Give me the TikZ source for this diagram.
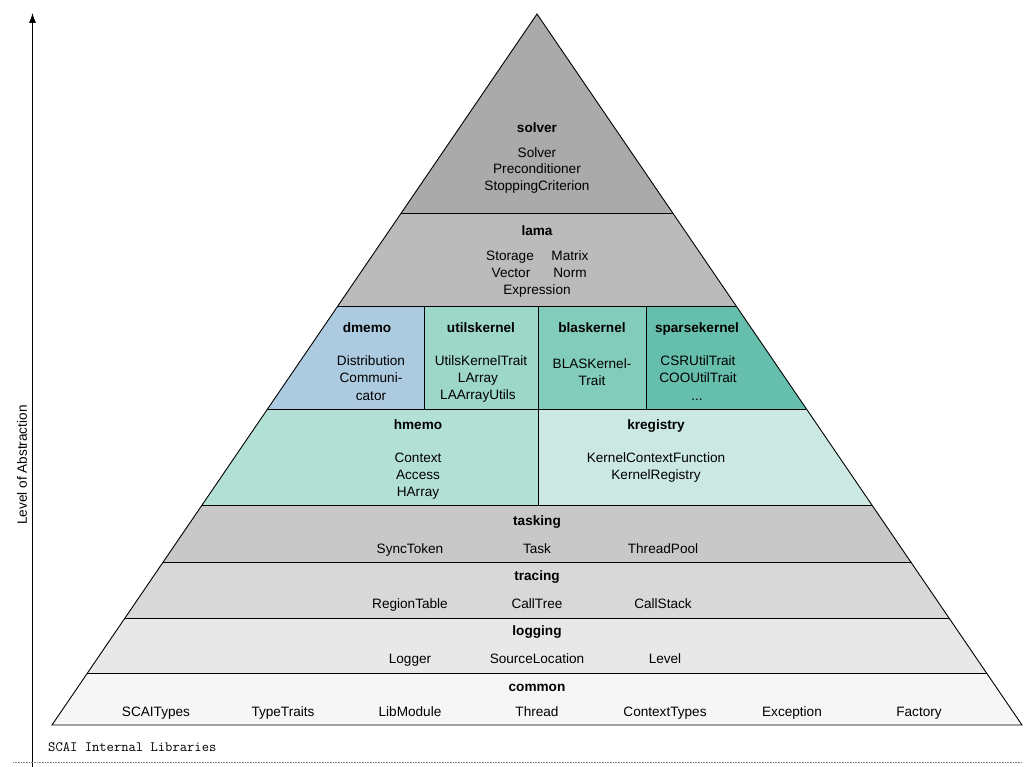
\documentclass[tikz,border=0pt]{standalone}
\usepackage{fontspec}
\setmainfont{Liberation Sans}
\usetikzlibrary{arrows.meta}
\definecolor{csolver}{HTML}{AAAAAA}
\definecolor{clama}{HTML}{BBBBBB}
\definecolor{cdmemo}{HTML}{ACCBE1}
\definecolor{cutils}{HTML}{9DD7C7}
\definecolor{cblas}{HTML}{81CCBA}
\definecolor{csparse}{HTML}{66BFAC}
\definecolor{chmemo}{HTML}{B3E0D5}
\definecolor{ckreg}{HTML}{CBE9E2}
\definecolor{ctask}{HTML}{C8C8C8}
\definecolor{ctrace}{HTML}{D8D8D8}
\definecolor{clog}{HTML}{E8E8E8}
\definecolor{ccommon}{HTML}{F6F6F6}
\tikzset{
  txt/.style={inner sep=0pt, text height=9.8pt, text depth=0pt, font=\fontsize{13.6}{16}\selectfont},
  ttl/.style={txt, font=\fontsize{13.6}{16}\selectfont\bfseries},
  edge/.style={line width=0.9pt, black},
}
\begin{document}
\begin{tikzpicture}[x=1pt,y=-1pt]
\useasboundingbox (0,0) rectangle (1036,767);
% fills
\fill[csolver] (537,14) -- (672.74,213) -- (401.26,213) -- cycle;
\fill[clama] (401.26,213) -- (672.74,213) -- (736.16,306) -- (337.84,306) -- cycle;
\fill[cdmemo] (337.84,306) -- (424,306) -- (424,409) -- (267.54,409) -- cycle;
\fill[cutils] (424,306) rectangle (538,409);
\fill[cblas] (538,306) rectangle (646,409);
\fill[csparse] (646,306) -- (736.16,306) -- (806.46,409) -- (646,409) -- cycle;
\fill[chmemo] (267.54,409) -- (538,409) -- (538,505) -- (202.06,505) -- cycle;
\fill[ckreg] (538,409) -- (806.46,409) -- (871.94,505) -- (538,505) -- cycle;
\fill[ctask] (202.06,505) -- (871.94,505) -- (910.82,562) -- (163.18,562) -- cycle;
\fill[ctrace] (163.18,562) -- (910.82,562) -- (949.02,618) -- (124.98,618) -- cycle;
\fill[clog] (124.98,618) -- (949.02,618) -- (986.54,673) -- (87.46,673) -- cycle;
\fill[ccommon] (87.46,673) -- (986.54,673) -- (1022,725) -- (52,725) -- cycle;
% lines
\draw[edge, line join=miter] (537,14) -- (1022,725) -- (52,725) -- cycle;
\draw[edge] (401.26,213) -- (672.74,213);
\draw[edge] (337.84,306) -- (736.16,306);
\draw[edge] (267.54,409) -- (806.46,409);
\draw[edge] (202.06,505) -- (871.94,505);
\draw[edge] (163.18,562) -- (910.82,562);
\draw[edge] (124.98,618) -- (949.02,618);
\draw[edge] (87.46,673) -- (986.54,673);
\draw[edge] (424,306) -- (424,409);
\draw[edge] (538,306) -- (538,505);
\draw[edge] (646,306) -- (646,409);
% axis
\coordinate (axb) at (32.5,767);
\coordinate (axt) at (32.5,13);
\draw[line width=0.9pt, -{Latex[length=10pt,width=7pt]}] (axb) -- (axt);
\node[txt, rotate=90] (axl) at (22,465) {Level of Abstraction};
\coordinate (dl) at (13,762);
\coordinate (dr) at (1022,762);
\draw[densely dotted, line width=0.6pt, gray] (dl) -- (dr);
\node[inner sep=0pt, anchor=base west, font=\fontsize{14.2}{16}\ttfamily] (scai) at (48,751) {SCAI Internal Libraries};
% solver
\node[ttl] (solverT) at (537,128) {solver};
\node[txt] (s1) at (537,153) {Solver};
\node[txt] (s2) at (537,169) {Preconditioner};
\node[txt] (s3) at (537,186) {StoppingCriterion};
% lama
\node[ttl] (lamaT) at (537,231) {lama};
\node[txt] (l1) at (510,256) {Storage};
\node[txt] (l2) at (570,256) {Matrix};
\node[txt] (l3) at (511,273) {Vector};
\node[txt] (l4) at (570,273) {Norm};
\node[txt] (l5) at (537,290) {Expression};
% dmemo
\node[ttl] (dmemoT) at (367,328) {dmemo};
\node[txt] (d1) at (371,361) {Distribution};
\node[txt] (d2) at (371,378) {Communi-};
\node[txt] (d3) at (371,396) {cator};
% utilskernel
\node[ttl] (utilsT) at (481,328) {utilskernel};
\node[txt] (u1) at (481,361) {UtilsKernelTrait};
\node[txt] (u2) at (478,378) {LArray};
\node[txt] (u3) at (478,395) {LAArrayUtils};
% blaskernel
\node[ttl] (blasT) at (592,328) {blaskernel};
\node[txt] (b1) at (592,364) {BLASKernel-};
\node[txt] (b2) at (592,381) {Trait};
% sparsekernel
\node[ttl] (sparseT) at (697,328) {sparsekernel};
\node[txt] (p1) at (698,361) {CSRUtilTrait};
\node[txt] (p2) at (698,378) {COOUtilTrait};
\node[txt] (p3) at (697,396) {...};
% hmemo
\node[ttl] (hmemoT) at (418,425) {hmemo};
\node[txt] (h1) at (418,458) {Context};
\node[txt] (h2) at (418,475) {Access};
\node[txt] (h3) at (418,492) {HArray};
% kregistry
\node[ttl] (kregT) at (656,425) {kregistry};
\node[txt] (k1) at (656,458) {KernelContextFunction};
\node[txt] (k2) at (656,475) {KernelRegistry};
% tasking
\node[ttl] (taskT) at (537,521) {tasking};
\node[txt] (t1) at (410,549) {SyncToken};
\node[txt] (t2) at (537,549) {Task};
\node[txt] (t3) at (663,549) {ThreadPool};
% tracing
\node[ttl] (traceT) at (537,576) {tracing};
\node[txt] (r1) at (410,604) {RegionTable};
\node[txt] (r2) at (537,604) {CallTree};
\node[txt] (r3) at (663,604) {CallStack};
% logging
\node[ttl] (logT) at (537,631) {logging};
\node[txt] (g1) at (410,659) {Logger};
\node[txt] (g2) at (537,659) {SourceLocation};
\node[txt] (g3) at (665,659) {Level};
% common
\node[ttl] (comT) at (537,687) {common};
\node[txt] (c1) at (156,712) {SCAITypes};
\node[txt] (c2) at (283,712) {TypeTraits};
\node[txt] (c3) at (410,712) {LibModule};
\node[txt] (c4) at (537,712) {Thread};
\node[txt] (c5) at (665,712) {ContextTypes};
\node[txt] (c6) at (792,712) {Exception};
\node[txt] (c7) at (919,712) {Factory};
\end{tikzpicture}
\end{document}
